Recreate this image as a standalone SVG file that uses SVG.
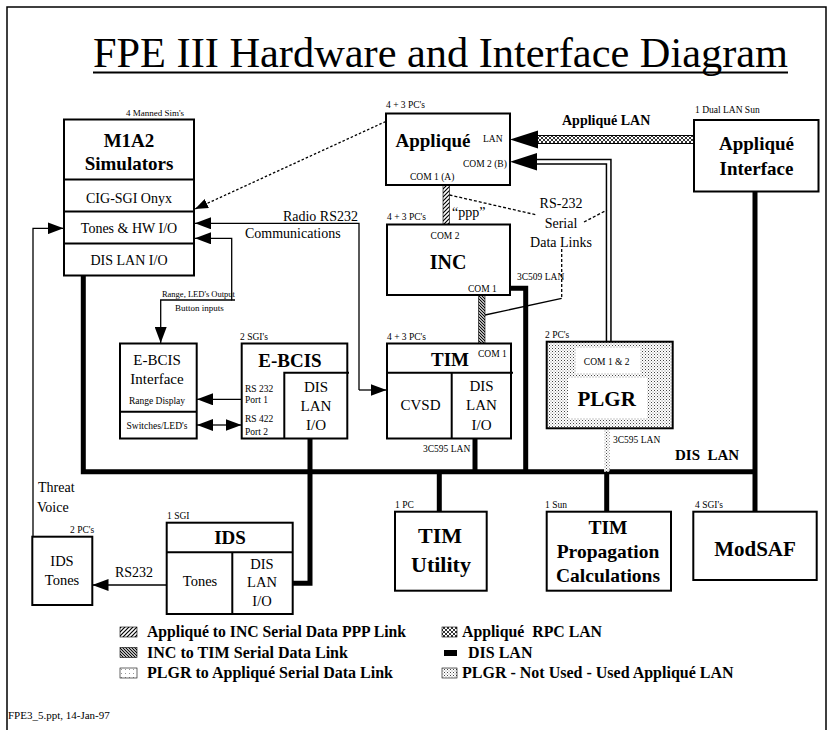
<svg xmlns="http://www.w3.org/2000/svg" width="832" height="730" viewBox="0 0 832 730">
<style>
text{font-family:"Liberation Serif","Times New Roman",serif;fill:#000}
.b{font-weight:bold}
.c{text-anchor:middle}
.e{text-anchor:end}
.s9{font-size:9.5px}
.s14{font-size:14px}
.s15{font-size:15px}
.h19{font-size:19px;font-weight:bold}
.box{fill:#fff;stroke:#000;stroke-width:2}
.ln{fill:none;stroke:#000;stroke-width:1.3}
.bus{fill:none;stroke:#000;stroke-width:5}
</style>
<defs>
<marker id="ah" markerUnits="userSpaceOnUse" markerWidth="16" markerHeight="12" refX="16" refY="6" orient="auto"><path d="M0,0 L16,6 L0,12 z" fill="#000"/></marker>
<marker id="as" markerUnits="userSpaceOnUse" markerWidth="13" markerHeight="10" refX="13" refY="5" orient="auto"><path d="M0,0 L13,5 L0,10 z" fill="#000"/></marker>
<pattern id="hatchA" patternUnits="userSpaceOnUse" width="4" height="4"><rect width="4" height="4" fill="#fff"/><path d="M-1,1 L1,-1 M0,4 L4,0 M3,5 L5,3" stroke="#000" stroke-width="1.2"/></pattern>
<pattern id="hatchB" patternUnits="userSpaceOnUse" width="3" height="3"><rect width="3" height="3" fill="#fff"/><path d="M-1,-1 L4,4 M-1,2 L1,4 M2,-1 L4,1" stroke="#000" stroke-width="1.1"/></pattern>
<pattern id="cross" patternUnits="userSpaceOnUse" width="4" height="4"><rect width="4" height="4" fill="#fff"/><path d="M0,0 L4,4 M4,0 L0,4" stroke="#000" stroke-width="0.8"/></pattern>
<pattern id="stip" patternUnits="userSpaceOnUse" width="3" height="3"><rect width="3" height="3" fill="#fff"/><rect x="0" y="0" width="1" height="1" fill="#444"/><rect x="1.5" y="1.5" width="1" height="1" fill="#888"/></pattern>
<pattern id="light" patternUnits="userSpaceOnUse" width="4" height="4"><rect width="4" height="4" fill="#fff"/><rect x="1" y="1" width="1" height="1" fill="#999"/></pattern>
</defs>

<path d="M7,730 V7 H826 V730" fill="none" stroke="#000" stroke-width="1.5"/>

<g id="title">
<text x="440.5" y="67" class="c" font-size="43" textLength="695" lengthAdjust="spacingAndGlyphs">FPE III Hardware and Interface Diagram</text>
<line x1="93" y1="72.5" x2="788" y2="72.5" stroke="#000" stroke-width="2"/>
</g>

<g id="connectors">
<path class="bus" d="M83.3,275.5 V471.7 H755"/>
<path class="bus" d="M755,191.5 V511.7"/>
<path class="bus" d="M510,288.3 H525.7 V471.7"/>
<path class="bus" d="M475,438.5 V471.7"/>
<path class="bus" d="M439.3,471.7 V511.7"/>
<path class="bus" d="M310,438.5 V583.3 H292.7"/>
<path class="bus" d="M606.7,471.7 V511.7"/>
<rect x="604" y="428.3" width="5.5" height="43.4" fill="url(#stip)"/>
<rect x="443" y="185" width="6.5" height="39.3" fill="url(#hatchA)" stroke="#000" stroke-width="0.6"/>
<rect x="478.5" y="295" width="6.5" height="48.3" fill="url(#hatchB)" stroke="#000" stroke-width="0.6"/>
<rect x="536" y="135.5" width="158" height="8" fill="url(#cross)" stroke="#000" stroke-width="1"/>
<polygon points="510,139.5 538,130.5 538,148.5" fill="#000"/>
<path d="M536,161.7 H608.7 V341.7" fill="none" stroke="#000" stroke-width="6"/>
<path d="M536,161.7 H608.7 V341.7" fill="none" stroke="#fff" stroke-width="3"/>
<polygon points="510,161.7 537,153 537,170.4" fill="#000"/>
<path class="ln" d="M449.5,195 L537,215" stroke-dasharray="3,2"/>
<path class="ln" d="M584,222 L607,210" stroke-dasharray="3,2"/>
<path class="ln" d="M561.7,249 V298.3" stroke-dasharray="3,2"/>
<path class="ln" d="M561.7,298.3 L485,315"/>
<path class="ln" d="M385.7,121.5 L195,209" stroke-dasharray="2.5,2" stroke-width="1.6" marker-end="url(#as)"/>
<path class="ln" d="M359,390 V223.3 H195" marker-end="url(#ah)"/>
<path class="ln" d="M359,390 H386.5" marker-end="url(#ah)"/>
<path class="ln" d="M235,300 H231.7 V238.3 H195" marker-end="url(#ah)"/>
<path class="ln" d="M231.7,300 H160.7 V343" marker-end="url(#ah)"/>
<path class="ln" d="M33,536.7 V228.3 H63.5" marker-end="url(#ah)"/>
<path class="ln" d="M241.7,399.3 H197" marker-end="url(#ah)"/>
<path class="ln" d="M219,425 H197" marker-end="url(#ah)"/>
<path class="ln" d="M219,425 H241.5" marker-end="url(#ah)"/>
<path class="ln" d="M166.7,585 H92.5" marker-end="url(#ah)"/>
</g>

<g id="labels">
<text x="562" y="124.5" class="b s14">Appliqué LAN</text>
<text x="358" y="221" class="e s14">Radio RS232</text>
<text x="245" y="238" class="s14">Communications</text>
<text x="561" y="208" class="c s14">RS-232</text>
<text x="561" y="227.5" class="c s14">Serial</text>
<text x="561" y="246.5" class="c s14">Data Links</text>
<text x="452" y="217" class="s14">“ppp”</text>
<text x="235" y="297" class="e" font-size="8.5">Range, LED's Output</text>
<text x="175" y="310.5" font-size="9">Button inputs</text>
<text x="115" y="577" class="s14">RS232</text>
<text x="38" y="491.5" class="s14">Threat</text>
<text x="37" y="511.5" class="s14">Voice</text>
<text x="675" y="460" class="b s15">DIS&#160; LAN</text>
</g>

<g id="m1a2">
<text x="126" y="116" font-size="9">4 Manned Sim's</text>
<rect class="box" x="64" y="119.5" width="130" height="156"/>
<path d="M64,179.5 H194 M64,211.5 H194 M64,243.5 H194" stroke="#000" stroke-width="2"/>
<text x="129" y="147" class="c h19">M1A2</text>
<text x="129" y="170" class="c h19">Simulators</text>
<text x="129" y="203" class="c s14">CIG-SGI Onyx</text>
<text x="129" y="233" class="c s14">Tones &amp; HW I/O</text>
<text x="129" y="265" class="c s14">DIS LAN I/O</text>
</g>

<g id="applique">
<text x="386" y="108" class="s9">4 + 3 PC's</text>
<rect class="box" x="386" y="113.5" width="124" height="71.5"/>
<text x="433" y="147" class="c h19">Appliqué</text>
<text x="483" y="141.5" class="s9">LAN</text>
<text x="463" y="166.5" class="s9">COM 2 (B)</text>
<text x="410" y="180" class="s9">COM 1 (A)</text>
</g>

<g id="applique-interface">
<text x="695" y="113" class="s9">1 Dual LAN Sun</text>
<rect class="box" x="694" y="120" width="124.5" height="71.5"/>
<text x="756.5" y="149.5" class="c h19">Appliqué</text>
<text x="756.5" y="174.5" class="c h19">Interface</text>
</g>

<g id="inc">
<text x="387" y="220" class="s9">4 + 3 PC's</text>
<rect class="box" x="387" y="224.5" width="123" height="70.5"/>
<text x="445" y="238.5" class="c s9">COM 2</text>
<text x="448" y="268.5" class="c b" font-size="20">INC</text>
<text x="468" y="291.5" class="s9">COM 1</text>
<text x="517" y="280" class="s9">3C509 LAN</text>
</g>

<g id="tim">
<text x="387" y="339.5" class="s9">4 + 3 PC's</text>
<rect class="box" x="387" y="343.5" width="124" height="95"/>
<path d="M387,372.7 H513 M451.7,372.7 V438.5" stroke="#000" stroke-width="2"/>
<text x="450" y="366" class="c h19">TIM</text>
<text x="478" y="356.5" class="s9">COM 1</text>
<text x="420.5" y="410" class="c s15">CVSD</text>
<text x="481.5" y="391" class="c s15">DIS</text>
<text x="481.5" y="410" class="c s15">LAN</text>
<text x="481.5" y="430" class="c s15">I/O</text>
<text x="423" y="451.5" class="s9">3C595 LAN</text>
</g>

<g id="ebcis-interface">
<rect class="box" x="120" y="343.5" width="76.7" height="95"/>
<path d="M120,411.7 H196.7" stroke="#000" stroke-width="2"/>
<text x="157" y="365" class="c s15">E-BCIS</text>
<text x="157" y="384" class="c s15">Interface</text>
<text x="157" y="403.5" class="c s9">Range Display</text>
<text x="157" y="428.5" class="c s9">Switches/LED's</text>
</g>

<g id="ebcis">
<text x="240" y="340" class="s9">2 SGI's</text>
<rect class="box" x="241.7" y="343.5" width="105.6" height="95"/>
<path d="M284.3,438.5 V372.7 H349" fill="none" stroke="#000" stroke-width="2"/>
<text x="290" y="366.5" class="c h19">E-BCIS</text>
<text x="245" y="391.5" class="s9">RS 232</text>
<text x="245" y="402.5" class="s9">Port 1</text>
<text x="245" y="421.5" class="s9">RS 422</text>
<text x="245" y="435" class="s9">Port 2</text>
<text x="316" y="391.5" class="c s15">DIS</text>
<text x="316" y="411" class="c s15">LAN</text>
<text x="316" y="430" class="c s15">I/O</text>
</g>

<g id="plgr">
<text x="545" y="337.5" class="s9">2 PC's</text>
<rect x="546.7" y="341.7" width="126" height="86.6" fill="url(#stip)" stroke="#000" stroke-width="2"/>
<rect x="576" y="348" width="64" height="25" fill="#fff"/>
<rect x="568" y="378" width="79" height="40" fill="#fff"/>
<text x="606.7" y="365" class="c s9">COM 1 &amp; 2</text>
<text x="606.7" y="406" class="c b" font-size="21">PLGR</text>
<text x="613" y="442.5" class="s9">3C595 LAN</text>
</g>

<g id="ids">
<text x="167" y="519" class="s9">1 SGI</text>
<rect class="box" x="166.7" y="522.7" width="126" height="91.3"/>
<path d="M166.7,552.3 H292.7 M232.3,552.3 V614" stroke="#000" stroke-width="2"/>
<text x="230" y="543.5" class="c h19">IDS</text>
<text x="200" y="586" class="c" font-size="14.5">Tones</text>
<text x="262" y="568.5" class="c" font-size="14.5">DIS</text>
<text x="262" y="587" class="c" font-size="14.5">LAN</text>
<text x="262" y="606" class="c" font-size="14.5">I/O</text>
</g>

<g id="ids-tones">
<text x="70" y="532.5" class="s9">2 PC's</text>
<rect class="box" x="32.3" y="536.7" width="60" height="68.3"/>
<text x="62" y="566" class="c" font-size="14.5">IDS</text>
<text x="62" y="585" class="c" font-size="14.5">Tones</text>
</g>

<g id="tim-utility">
<text x="395" y="508" class="s9">1 PC</text>
<rect class="box" x="395" y="511.7" width="91.7" height="79"/>
<text x="440" y="543" class="c b" font-size="22">TIM</text>
<text x="441" y="572" class="c b" font-size="22">Utility</text>
</g>

<g id="tim-propagation">
<text x="545" y="507.5" class="s9">1 Sun</text>
<rect class="box" x="546.7" y="511.7" width="124.3" height="79"/>
<text x="608" y="533.5" class="c b" font-size="19.5">TIM</text>
<text x="608" y="558" class="c b" font-size="19.5">Propagation</text>
<text x="608" y="582" class="c b" font-size="19.5">Calculations</text>
</g>

<g id="modsaf">
<text x="695" y="507.5" class="s9">4 SGI's</text>
<rect class="box" x="693.3" y="511.7" width="123.4" height="68.3"/>
<text x="755" y="555.5" class="c b" font-size="21">ModSAF</text>
</g>

<g id="legend">
<rect x="120" y="627" width="17" height="10" fill="url(#hatchA)" stroke="#000" stroke-width="0.6"/>
<text x="147" y="637" class="b" font-size="16" textLength="259" lengthAdjust="spacingAndGlyphs">Appliqué to INC Serial Data PPP Link</text>
<rect x="120" y="647.5" width="17" height="10" fill="url(#hatchB)" stroke="#000" stroke-width="0.6"/>
<text x="147" y="657.5" class="b" font-size="16" textLength="201" lengthAdjust="spacingAndGlyphs">INC to TIM Serial Data Link</text>
<rect x="120" y="668" width="17" height="10" fill="url(#light)" stroke="#000" stroke-width="0.6"/>
<text x="147" y="678" class="b" font-size="16" textLength="246" lengthAdjust="spacingAndGlyphs">PLGR to Appliqué Serial Data Link</text>
<rect x="442" y="627" width="15" height="10" fill="url(#cross)" stroke="#000" stroke-width="0.6"/>
<text x="462" y="637" class="b" font-size="16" textLength="140" lengthAdjust="spacingAndGlyphs">Appliqué&#160; RPC LAN</text>
<rect x="444" y="650" width="13" height="6" fill="#000"/>
<text x="468" y="657.5" class="b" font-size="16">DIS LAN</text>
<rect x="442" y="668" width="15" height="10" fill="url(#stip)" stroke="#000" stroke-width="0.6"/>
<text x="462" y="678" class="b" font-size="16">PLGR - Not Used - Used Appliqué LAN</text>
<text x="8" y="719" font-size="11">FPE3_5.ppt, 14-Jan-97</text>
</g>
</svg>
